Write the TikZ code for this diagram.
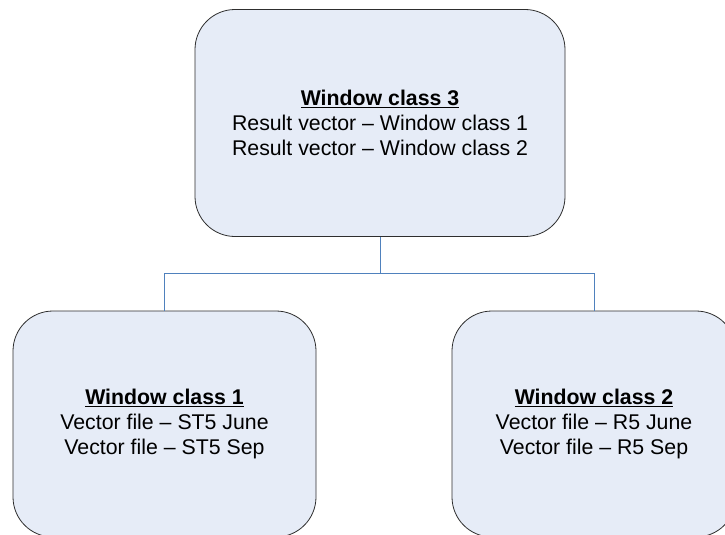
\documentclass[tikz,border=0pt]{standalone}
\usepackage{fontspec}
\setmainfont{Liberation Sans}
\definecolor{boxfill}{HTML}{E6ECF7}
\definecolor{boxline}{HTML}{2E2E2E}
\definecolor{linkblue}{HTML}{4F81BD}
\tikzset{
  classbox/.style={draw=boxline, fill=boxfill, line width=0.8pt,
    rounded corners=40pt, inner sep=0pt, outer sep=0pt,
    align=center, font=\fontsize{21.3}{25}\selectfont},
  link/.style={draw=linkblue, line width=0.8pt}
}
\begin{document}
\begin{tikzpicture}[x=1pt,y=-1pt]
\useasboundingbox (0,0) rectangle (725,535);
\clip (0,0) rectangle (725,535);
\node[classbox, minimum width=370pt, minimum height=227pt] (w3) at (380,123)
  {\underline{\textbf{Window class 3}}\\Result vector -- Window class 1\\Result vector -- Window class 2};
\node[classbox, minimum width=303pt, minimum height=226pt] (w1) at (164.5,424)
  {\underline{\textbf{Window class 1}}\\Vector file -- ST5 June\\Vector file -- ST5 Sep};
\node[classbox, minimum width=284pt, minimum height=226pt] (w2) at (594,424)
  {\underline{\textbf{Window class 2}}\\Vector file -- R5 June\\Vector file -- R5 Sep};
\coordinate (split) at (380,273);
\draw[link] (w3.south) -- (split) -| (w1.north);
\draw[link] (split) -| (w2.north);
\end{tikzpicture}
\end{document}
